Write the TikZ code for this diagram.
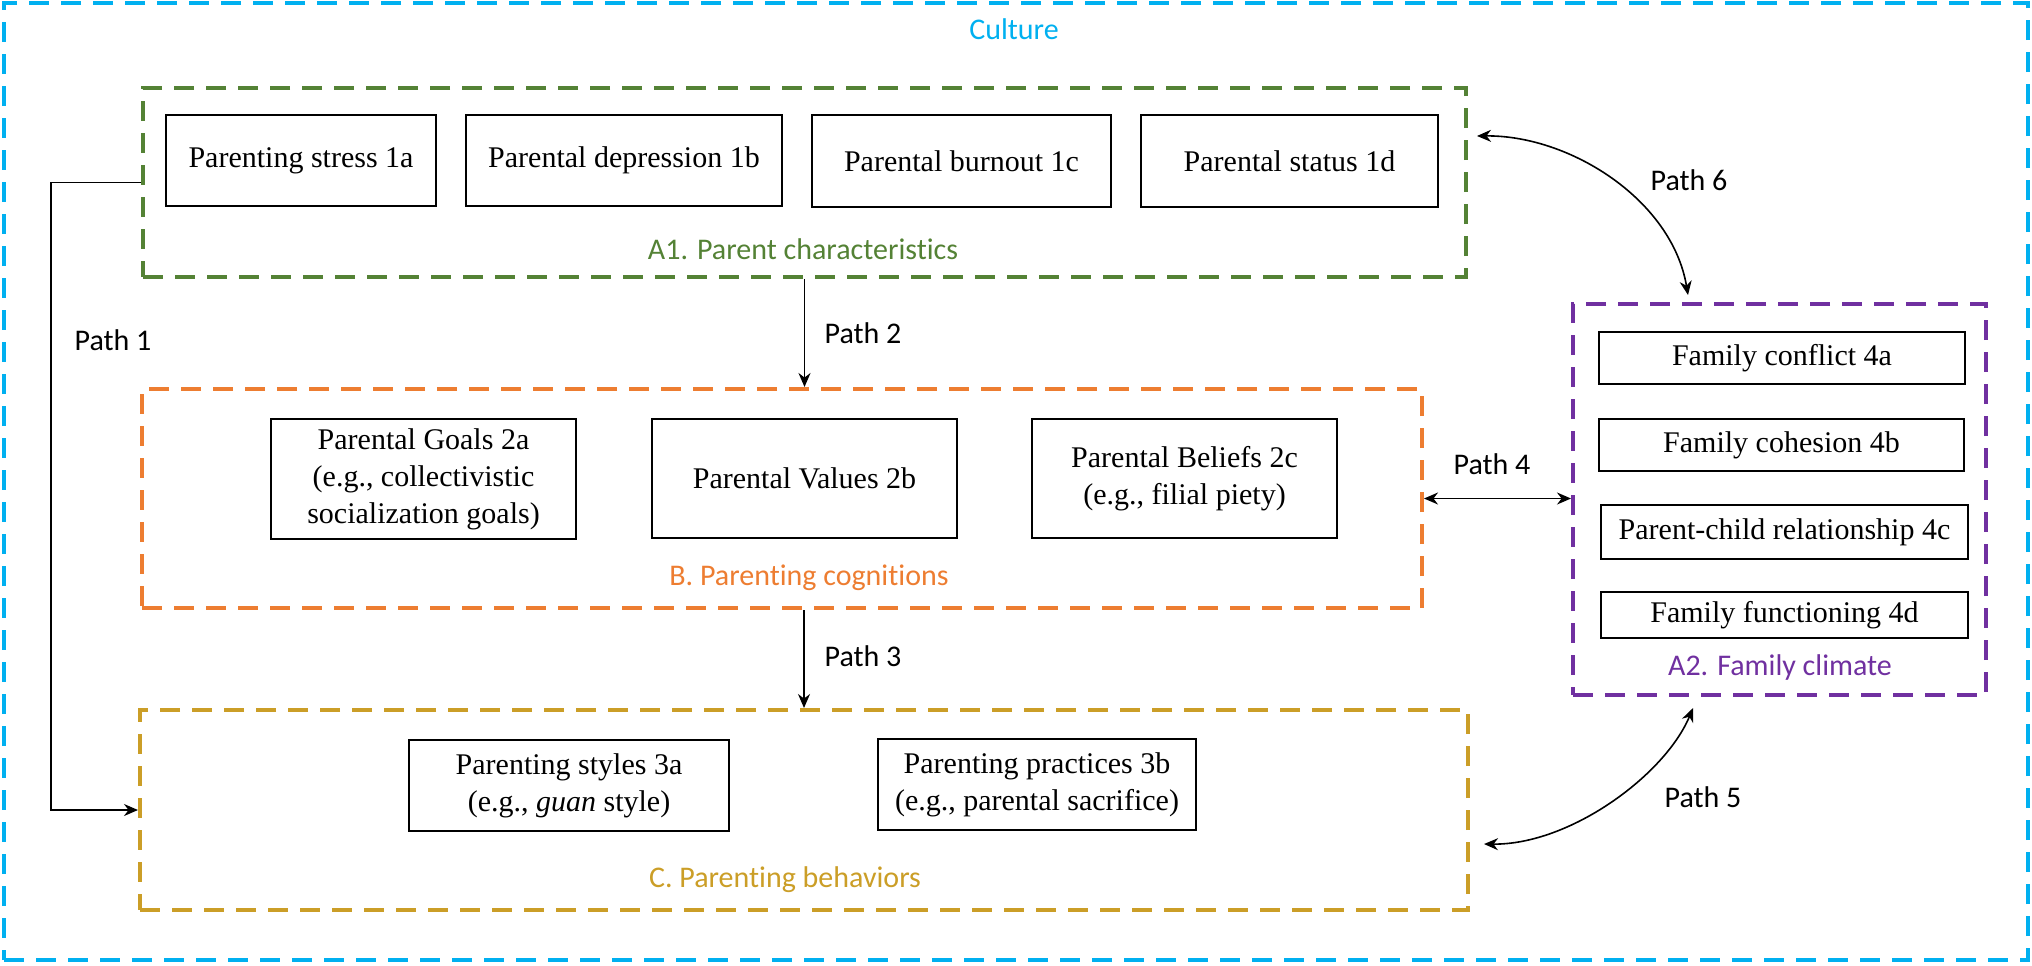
\documentclass[tikz,border=0pt]{standalone}
\usepackage{fontspec}
\setmainfont{Liberation Serif}
\newfontfamily\carlito[Ligatures=NoCommon]{Carlito}
\usetikzlibrary{fit,arrows.meta,calc}
\definecolor{cult}{RGB}{0,176,240}
\definecolor{grn}{RGB}{84,130,53}
\definecolor{orng}{RGB}{237,125,49}
\definecolor{gold}{RGB}{203,158,39}
\definecolor{purp}{RGB}{112,48,160}
\begin{document}
\begin{tikzpicture}[x=0.5pt,y=-0.5pt,
 grp/.style={draw, line width=2pt, dash pattern=on 10pt off 6pt, inner sep=0pt},
 bx/.style={draw, line width=0.9pt, inner sep=0pt, align=center, font=\fontsize{15}{18.5}\selectfont},
 lbl/.style={font=\carlito\fontsize{15}{18}\selectfont, anchor=base, inner sep=0pt},
 arr/.style={line width=0.8pt, -{Stealth[length=7pt,width=6pt]}},
 darr/.style={line width=0.8pt, {Stealth[length=7pt,width=6pt]}-{Stealth[length=7pt,width=6pt]}}]
\useasboundingbox (0,0) rectangle (2032,965);
% group boxes
\node[grp, draw=cult, fit={(4,3) (2028,960)}] (CU) {};
\node[grp, draw=grn, fit={(143,88) (1466,277)}] (A1) {};
\node[grp, draw=orng, fit={(142,389) (1422,608)}] (B) {};
\node[grp, draw=gold, fit={(140,710) (1468,910)}] (C) {};
\node[grp, draw=purp, fit={(1573,304) (1986,695)}] (A2) {};
% group labels
\node[lbl, text=cult] (lcu) at (1014,39) {Culture};
\node[lbl, text=grn] (la1) at (803,259) {A1. Parent characteristics};
\node[lbl, text=orng] (lb) at (809,585) {B. Parenting cognitions};
\node[lbl, text=gold] (lc) at (785,887) {C. Parenting behaviors};
\node[lbl, text=purp] (la2) at (1780,675) {A2. Family climate};
% A1 boxes
\node[bx, minimum width=135pt, minimum height=45.5pt] (n1a) at (301,160.5) {Parenting stress 1a};
\node[bx, minimum width=158pt, minimum height=45.5pt] (n1b) at (624,160.5) {Parental depression 1b};
\node[bx, minimum width=149.5pt, minimum height=46pt] (n1c) at (961.5,161) {Parental burnout 1c};
\node[bx, minimum width=148.5pt, minimum height=46pt] (n1d) at (1289.5,161) {Parental status 1d};
% B boxes
\node[bx, minimum width=152.5pt, minimum height=60pt] (n2a) at (423.5,479) {Parental Goals 2a\\(e.g., collectivistic\\socialization goals)};
\node[bx, minimum width=152.5pt, minimum height=59.5pt] (n2b) at (804.5,478.5) {Parental Values 2b};
\node[bx, minimum width=152.5pt, minimum height=59.5pt] (n2c) at (1184.5,478.5) {Parental Beliefs 2c\\(e.g., filial piety)};
% C boxes
\node[bx, minimum width=160pt, minimum height=45.5pt] (n3a) at (569,785.5) {Parenting styles 3a\\(e.g., \textit{guan} style)};
\node[bx, minimum width=159pt, minimum height=45.5pt] (n3b) at (1037,784.5) {Parenting practices 3b\\(e.g., parental sacrifice)};
% A2 boxes
\node[bx, minimum width=183pt, minimum height=26pt] (n4a) at (1782,358) {Family conflict 4a};
\node[bx, minimum width=182.5pt, minimum height=26pt] (n4b) at (1781.5,445) {Family cohesion 4b};
\node[bx, minimum width=183.5pt, minimum height=27pt] (n4c) at (1784.5,532) {Parent-child relationship 4c};
\node[bx, minimum width=183.5pt, minimum height=23pt] (n4d) at (1784.5,615) {Family functioning 4d};
% connectors
\draw[arr] (A1.west) -- ++(-90,0) |- (C.west);
\draw[arr] (A1.south) -- (A1.south |- B.north);
\draw[arr] (C.north |- B.south) -- (C.north);
\draw[darr] (B.east) -- (B.east -| A2.west);
\coordinate (p6s) at (1477,136);
\coordinate (p6e) at (1688,295);
\draw[darr] (p6s) .. controls (1570,135) and (1672,200) .. (p6e);
\coordinate (p5s) at (1484,844);
\coordinate (p5e) at (1693,708);
\draw[darr] (p5s) .. controls (1570,845) and (1665,775) .. (p5e);
% path labels
\node[lbl] (t1) at (113,350) {Path 1};
\node[lbl] (t2) at (863,343) {Path 2};
\node[lbl] (t3) at (863,666) {Path 3};
\node[lbl] (t4) at (1492,474) {Path 4};
\node[lbl] (t5) at (1703,807) {Path 5};
\node[lbl] (t6) at (1689,190) {Path 6};
\end{tikzpicture}
\end{document}
